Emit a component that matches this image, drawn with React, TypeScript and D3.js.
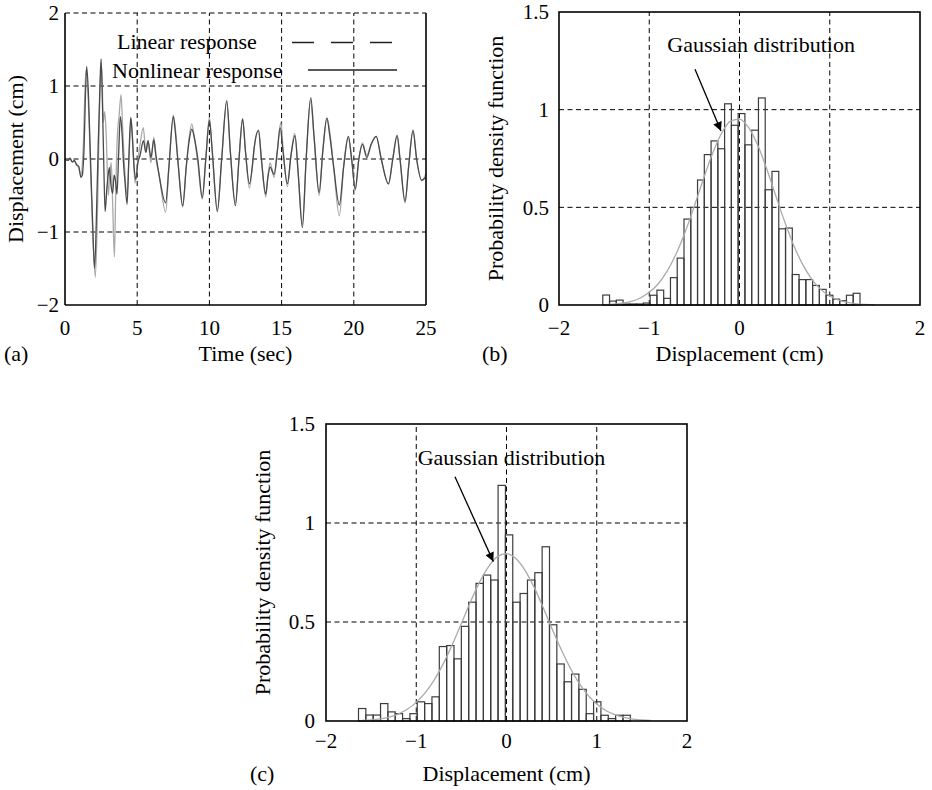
import React from "react";
import * as d3 from "d3";

// ---------- data ----------
const timeTicks = [0, 5, 10, 15, 20, 25];
const dispTicksA = [-2, -1, 0, 1, 2];
const pdfTicks = [0, 0.5, 1, 1.5];
const dispTicks = [-2, -1, 0, 1, 2];

// [time (s), displacement (cm)]
const linearResponse: [number, number][] = [
  [0, 0], [0.2, -0.02], [0.35, 0.0], [0.5, -0.04], [0.65, -0.03], [0.8, -0.07], [0.95, -0.12], [1.1, -0.22],
  [1.25, 0.1], [1.45, 1.22], [1.6, 0.85], [1.75, 0.0], [1.9, -0.9], [2.1, -1.62], [2.25, -0.7], [2.35, 0.3],
  [2.45, 1.1], [2.55, 1.25], [2.65, 0.5], [2.75, 0.65], [2.85, 0.35], [3.0, -0.5], [3.1, -0.2], [3.2, -0.05],
  [3.3, -0.6], [3.42, -1.34], [3.5, -0.6], [3.62, 0.3], [3.75, 0.6], [3.88, 0.88], [4.0, 0.4], [4.12, -0.1],
  [4.3, -0.5], [4.45, 0.1], [4.58, 0.55], [4.7, 0.2], [4.85, -0.33], [5.0, -0.1], [5.2, 0.2], [5.42, 0.43],
  [5.6, 0.1], [5.75, 0.25], [5.95, -0.05], [6.15, 0.3], [6.3, 0.0], [6.5, -0.2], [6.97, -0.73], [7.2, -0.1],
  [7.5, 0.6], [7.65, 0.4], [7.85, -0.1], [8.15, -0.66], [8.4, -0.1], [8.6, 0.3], [8.78, 0.48], [8.95, 0.3],
  [9.2, -0.05], [9.5, -0.55], [9.75, 0.0], [10.0, 0.57], [10.2, 0.1], [10.55, -0.7], [10.85, 0.0], [11.2, 0.78],
  [11.45, 0.1], [11.8, -0.6], [12.05, 0.0], [12.3, 0.55], [12.5, 0.1], [12.77, -0.4], [13.0, -0.05], [13.1, 0.15],
  [13.4, 0.4], [13.6, 0.0], [13.9, -0.52], [14.05, -0.25], [14.2, -0.05], [14.48, -0.25], [14.7, 0.1], [14.95, 0.5],
  [15.1, 0.15], [15.4, -0.38], [15.65, 0.05], [15.9, 0.35], [16.15, -0.2], [16.44, -0.9], [16.7, 0.0], [17.0, 0.8],
  [17.25, 0.3], [17.6, -0.5], [17.85, 0.1], [18.15, 0.56], [18.35, 0.35], [18.6, -0.1], [19.0, -0.78], [19.3, -0.1],
  [19.6, 0.3], [19.85, 0.0], [20.1, -0.43], [20.35, 0.0], [20.6, 0.22], [20.9, 0.05], [21.2, 0.2], [21.55, 0.31],
  [21.9, 0.0], [22.4, -0.34], [22.7, 0.0], [23.0, 0.33], [23.2, 0.0], [23.55, -0.6], [23.8, -0.1], [24.1, 0.4],
  [24.35, 0.0], [24.7, -0.3], [25, -0.2],
];

const nonlinearResponse: [number, number][] = [
  [0, 0], [0.2, -0.02], [0.35, 0.01], [0.5, -0.04], [0.65, -0.02], [0.8, -0.08], [0.95, -0.1], [1.1, -0.25],
  [1.2, -0.22], [1.3, 0.05], [1.5, 1.27], [1.62, 0.9], [1.75, 0.1], [1.9, -0.8], [2.05, -1.5], [2.2, -0.6],
  [2.3, 0.2], [2.42, 1.0], [2.5, 1.37], [2.6, 0.7], [2.7, -0.2], [2.78, -0.72], [2.9, -0.4], [3.0, -0.2],
  [3.08, -0.12], [3.18, -0.35], [3.3, -0.47], [3.4, -0.22], [3.5, -0.3], [3.6, -0.48], [3.72, 0.1], [3.83, 0.58],
  [3.95, 0.35], [4.05, -0.05], [4.15, -0.3], [4.3, -0.62], [4.42, 0.0], [4.55, 0.57], [4.65, 0.35], [4.78, -0.1],
  [4.9, -0.28], [5.05, -0.05], [5.2, 0.05], [5.43, 0.25], [5.6, 0.09], [5.75, 0.25], [5.95, 0.02], [6.15, 0.26],
  [6.3, 0.05], [6.5, -0.2], [6.97, -0.6], [7.2, -0.1], [7.5, 0.58], [7.65, 0.35], [7.85, -0.1], [8.15, -0.64],
  [8.4, -0.1], [8.6, 0.25], [8.78, 0.41], [8.95, 0.3], [9.2, 0.0], [9.51, -0.53], [9.75, 0.0], [10.0, 0.53],
  [10.2, 0.1], [10.55, -0.72], [10.85, 0.0], [11.2, 0.8], [11.45, 0.1], [11.8, -0.64], [12.05, 0.0], [12.3, 0.55],
  [12.5, 0.1], [12.77, -0.34], [13.0, -0.05], [13.1, 0.15], [13.4, 0.39], [13.6, 0.0], [13.9, -0.48], [14.05, -0.25],
  [14.2, -0.11], [14.48, -0.21], [14.7, 0.1], [14.9, 0.43], [15.1, 0.1], [15.4, -0.34], [15.65, 0.05], [15.93, 0.32],
  [16.15, -0.2], [16.44, -0.94], [16.7, 0.0], [17.02, 0.84], [17.25, 0.3], [17.6, -0.46], [17.85, 0.1], [18.13, 0.56],
  [18.35, 0.3], [18.6, -0.1], [19.0, -0.63], [19.3, -0.1], [19.63, 0.31], [19.85, 0.0], [20.1, -0.41], [20.35, 0.0],
  [20.6, 0.2], [20.9, 0.02], [21.2, 0.2], [21.55, 0.31], [21.9, 0.0], [22.4, -0.34], [22.7, 0.0], [23.0, 0.32],
  [23.2, 0.0], [23.55, -0.58], [23.8, -0.1], [24.1, 0.39], [24.35, 0.0], [24.7, -0.29], [25, -0.25],
];

// histogram (b)
const histBStart = -1.515;
const histBWidth = 0.075;
const histB = [
  0.051, 0.02, 0.025, 0.005, 0.005, 0.005, 0.01, 0.05, 0.076, 0.034, 0.14, 0.24, 0.44, 0.5, 0.64, 0.77, 0.84, 0.8,
  1.03, 0.92, 0.98, 0.82, 0.895, 1.06, 0.59, 0.684, 0.39, 0.394, 0.156, 0.13, 0.13, 0.1, 0.08, 0.05, 0.03, 0.022,
  0.05, 0.06,
];
const gaussBX = [-1.5, -1.4, -1.3, -1.2, -1.1, -1.0, -0.9, -0.8, -0.7, -0.6, -0.5, -0.4, -0.3, -0.2, -0.1, 0, 0.1, 0.2, 0.3, 0.4, 0.5, 0.6, 0.7, 0.8, 0.9, 1.0, 1.1, 1.2, 1.3, 1.4, 1.5];
const gaussBY = [0.002, 0.004, 0.009, 0.019, 0.036, 0.065, 0.109, 0.175, 0.264, 0.376, 0.507, 0.645, 0.774, 0.878, 0.941, 0.952, 0.909, 0.82, 0.699, 0.562, 0.427, 0.306, 0.208, 0.133, 0.08, 0.046, 0.025, 0.013, 0.006, 0.003, 0.001];

// histogram (c)
const histCStart = -1.64;
const histCWidth = 0.0814;
const histC = [
  0.063, 0.03, 0.03, 0.088, 0.046, 0.037, 0.012, 0.037, 0.097, 0.088, 0.122, 0.376, 0.381, 0.314, 0.478, 0.6,
  0.695, 0.737, 0.712, 1.19, 0.94, 0.6, 0.644, 0.712, 0.749, 0.88, 0.486, 0.288, 0.198, 0.237, 0.16, 0.037, 0.097,
  0.029, 0.012, 0.029, 0.029,
];
const gaussCX = [-1.6, -1.5, -1.4, -1.3, -1.2, -1.1, -1.0, -0.9, -0.8, -0.7, -0.6, -0.5, -0.4, -0.3, -0.2, -0.1, 0, 0.1, 0.2, 0.3, 0.4, 0.5, 0.6, 0.7, 0.8, 0.9, 1.0, 1.1, 1.2, 1.3, 1.4, 1.5, 1.6];
const gaussCY = [0.003, 0.006, 0.011, 0.02, 0.035, 0.059, 0.094, 0.143, 0.208, 0.29, 0.387, 0.493, 0.601, 0.7, 0.779, 0.83, 0.845, 0.822, 0.765, 0.681, 0.58, 0.471, 0.367, 0.273, 0.194, 0.132, 0.086, 0.053, 0.032, 0.018, 0.01, 0.005, 0.003];

// ---------- styles ----------
const FONT = "'Times New Roman', 'Liberation Serif', serif";
const TICK_SIZE = 21;
const LABEL_SIZE = 22;
const GRID_DASH = "5,3.5";

const fmt = (v: number) => (v < 0 ? "\u2212" + Math.abs(v) : String(v));

function PanelA() {
  const x = d3.scaleLinear().domain([0, 25]).range([65, 426]);
  const y = d3.scaleLinear().domain([-2, 2]).range([305, 13]);
  const line = d3
    .line<[number, number]>()
    .x((d) => x(d[0]))
    .y((d) => y(d[1]))
    .curve(d3.curveMonotoneX);
  return (
    <g>
      {timeTicks.slice(1, -1).map((t) => (
        <line key={"vx" + t} x1={x(t)} x2={x(t)} y1={y(-2)} y2={y(2)} stroke="#000" strokeWidth={1} strokeDasharray={GRID_DASH} />
      ))}
      {[-1, 0, 1, 2].map((v) => (
        <line key={"hy" + v} x1={x(0)} x2={x(25)} y1={y(v)} y2={y(v)} stroke="#000" strokeWidth={1} strokeDasharray={GRID_DASH} />
      ))}
      <path d={line(linearResponse) || ""} fill="none" stroke="#a9a9a9" strokeWidth={1.3} />
      <path d={line(nonlinearResponse) || ""} fill="none" stroke="#4a4a4a" strokeWidth={1.3} />
      <line x1={x(0)} x2={x(0)} y1={y(2)} y2={y(-2)} stroke="#000" strokeWidth={1.6} />
      <line x1={x(0)} x2={x(25)} y1={y(-2)} y2={y(-2)} stroke="#000" strokeWidth={1.6} />
      <line x1={x(25)} x2={x(25)} y1={y(2)} y2={y(-2)} stroke="#000" strokeWidth={1.6} />
      {timeTicks.map((t) => (
        <text key={"tx" + t} x={x(t)} y={335} textAnchor="middle" fontSize={TICK_SIZE}>{fmt(t)}</text>
      ))}
      {dispTicksA.map((v) => (
        <text key={"ty" + v} x={59} y={y(v)} dy="0.35em" textAnchor="end" fontSize={TICK_SIZE}>{fmt(v)}</text>
      ))}
      {/* legend */}
      <text x={117} y={49} fontSize={LABEL_SIZE}>Linear response</text>
      <line x1={292} x2={392} y1={42.5} y2={42.5} stroke="#222" strokeWidth={1.3} strokeDasharray="22,17" />
      <text x={112} y={78} fontSize={LABEL_SIZE}>Nonlinear response</text>
      <line x1={308} x2={397} y1={70} y2={70} stroke="#222" strokeWidth={1.3} />
      <text x={(x(0) + x(25)) / 2} y={361} textAnchor="middle" fontSize={LABEL_SIZE}>Time (sec)</text>
      <text transform={`translate(23,${(y(2) + y(-2)) / 2}) rotate(-90)`} textAnchor="middle" fontSize={LABEL_SIZE}>Displacement (cm)</text>
      <text x={4} y={361} fontSize={LABEL_SIZE}>(a)</text>
    </g>
  );
}

type HistProps = {
  left: number;
  right: number;
  top: number;
  bottom: number;
  start: number;
  width: number;
  bars: number[];
  gx: number[];
  gy: number[];
  textPos: [number, number];
  arrowFrom: [number, number];
  arrowTo: [number, number];
  tickBaseline: number;
  yTickEnd: number;
  titleBaseline: number;
  yTitleX: number;
  panelLabel: string;
  panelLabelPos: [number, number];
  id: string;
};

function HistPanel(p: HistProps) {
  const x = d3.scaleLinear().domain([-2, 2]).range([p.left, p.right]);
  const y = d3.scaleLinear().domain([0, 1.5]).range([p.bottom, p.top]);
  const gLine = d3
    .line<number>()
    .x((_, i) => x(p.gx[i]))
    .y((d) => y(d))
    .curve(d3.curveMonotoneX);
  const [ax0, ay0] = p.arrowFrom;
  const [ax1, ay1] = p.arrowTo;
  return (
    <g>
      <defs>
        <marker id={"arrow" + p.id} viewBox="0 0 10 10" refX={10} refY={5} markerWidth={11} markerHeight={9} markerUnits="userSpaceOnUse" orient="auto">
          <path d="M0,0 L10,5 L0,10 Z" fill="#000" />
        </marker>
      </defs>
      {[-1, 0, 1].map((v) => (
        <line key={"gv" + v} x1={x(v)} x2={x(v)} y1={y(0)} y2={y(1.5)} stroke="#000" strokeWidth={1} strokeDasharray={GRID_DASH} />
      ))}
      {[0.5, 1].map((v) => (
        <line key={"gh" + v} x1={x(-2)} x2={x(2)} y1={y(v)} y2={y(v)} stroke="#000" strokeWidth={1} strokeDasharray={GRID_DASH} />
      ))}
      {p.bars.map((h, i) => {
        const x0 = p.start + i * p.width;
        return (
          <rect key={"b" + i} x={x(x0)} y={y(h)} width={x(x0 + p.width) - x(x0)} height={y(0) - y(h)} fill="none" stroke="#3c3c3c" strokeWidth={1.2} />
        );
      })}
      <path d={gLine(p.gy) || ""} fill="none" stroke="#aaaaaa" strokeWidth={1.3} />
      <rect x={x(-2)} y={y(1.5)} width={x(2) - x(-2)} height={y(0) - y(1.5)} fill="none" stroke="#000" strokeWidth={1.6} />
      {dispTicks.map((v) => (
        <text key={"tx" + v} x={x(v)} y={p.tickBaseline} textAnchor="middle" fontSize={TICK_SIZE}>{fmt(v)}</text>
      ))}
      {pdfTicks.map((v) => (
        <text key={"ty" + v} x={p.yTickEnd} y={y(v)} dy="0.35em" textAnchor="end" fontSize={TICK_SIZE}>{fmt(v)}</text>
      ))}
      <text x={x(p.textPos[0])} y={y(p.textPos[1])} fontSize={LABEL_SIZE}>Gaussian distribution</text>
      <line x1={x(ax0)} y1={y(ay0)} x2={x(ax1)} y2={y(ay1)} stroke="#000" strokeWidth={1.3} markerEnd={`url(#arrow${p.id})`} />
      <text x={x(0)} y={p.titleBaseline} textAnchor="middle" fontSize={LABEL_SIZE}>Displacement (cm)</text>
      <text transform={`translate(${p.yTitleX},${(p.top + p.bottom) / 2}) rotate(-90)`} textAnchor="middle" fontSize={LABEL_SIZE}>Probability density function</text>
      <text x={p.panelLabelPos[0]} y={p.panelLabelPos[1]} fontSize={LABEL_SIZE}>{p.panelLabel}</text>
    </g>
  );
}

export default function App() {
  return (
    <svg
      width={932}
      height={790}
      viewBox="0 0 932 790"
      style={{ position: "absolute", left: 0, top: 0, background: "#fff" }}
      fontFamily={FONT}
      fill="#000"
    >
      <rect x={0} y={0} width={932} height={790} fill="#fff" />
      <PanelA />
      <HistPanel
        id="b"
        left={559}
        right={920}
        top={12}
        bottom={305}
        start={histBStart}
        width={histBWidth}
        bars={histB}
        gx={gaussBX}
        gy={gaussBY}
        textPos={[-0.8, 1.295]}
        arrowFrom={[-0.493, 1.207]}
        arrowTo={[-0.205, 0.891]}
        tickBaseline={335}
        yTickEnd={549}
        titleBaseline={361}
        yTitleX={503}
        panelLabel="(b)"
        panelLabelPos={[482, 361]}
      />
      <HistPanel
        id="c"
        left={326}
        right={687}
        top={424}
        bottom={721}
        start={histCStart}
        width={histCWidth}
        bars={histC}
        gx={gaussCX}
        gy={gaussCY}
        textPos={[-0.984, 1.293]}
        arrowFrom={[-0.571, 1.234]}
        arrowTo={[-0.146, 0.805]}
        tickBaseline={748}
        yTickEnd={315}
        titleBaseline={781}
        yTitleX={270}
        panelLabel="(c)"
        panelLabelPos={[250, 781]}
      />
    </svg>
  );
}
